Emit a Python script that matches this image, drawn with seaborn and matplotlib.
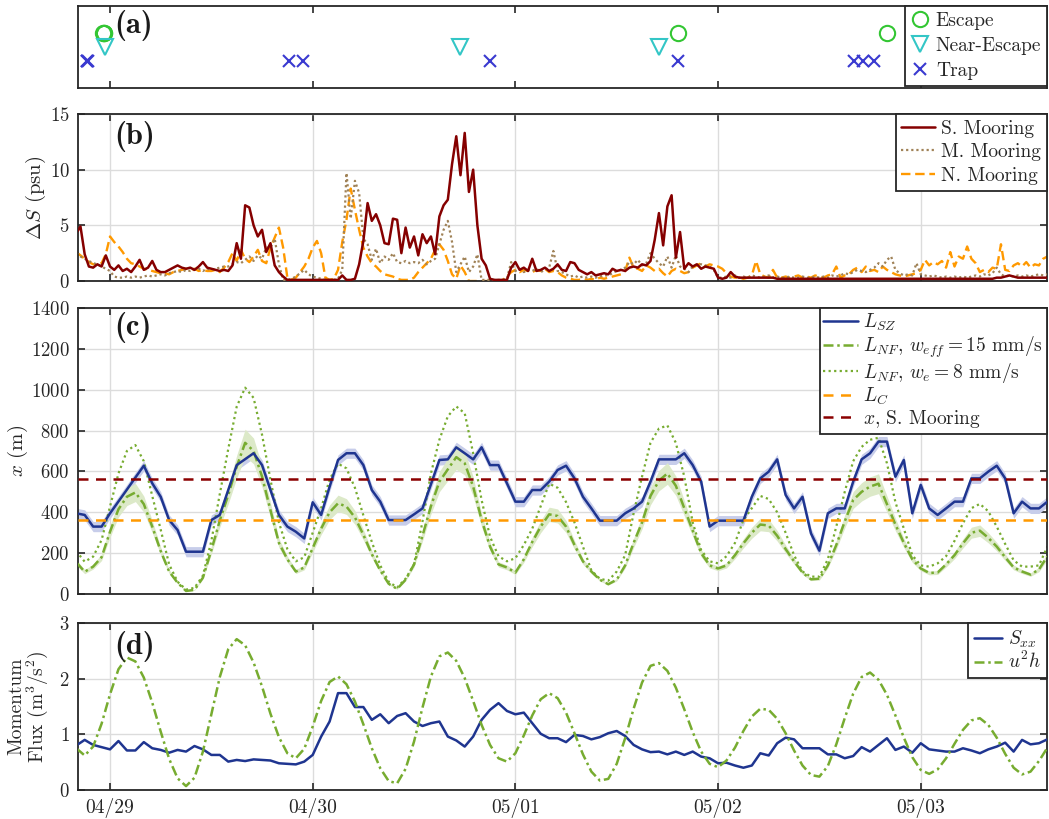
import numpy as np
import matplotlib
matplotlib.use("Agg")
import matplotlib.pyplot as plt
import seaborn as sns

# ---------------- data ----------------
day_ticks = [0, 1, 2, 3, 4]
day_labels = ["04/29", "04/30", "05/01", "05/02", "05/03"]
x_range = (-0.158, 4.623)

# (a) event times (days since 04/29 00:00)
escape_t = [-0.036, -0.032, -0.028, 2.801, 3.835]
near_t = [-0.025, 1.725, 2.708]
trap_t = [-0.116, -0.112, -0.108, 0.882, 0.952, 1.873, 2.801, 3.670, 3.716, 3.771]
escape_level, near_level, trap_level = 2.0, 1.5, 1.0

# (b) salinity difference, half-hourly from 04/28 20:00
t_half = np.arange(-8, 223) / 48.0
ds_south = [4.3, 4.9, 2.4, 1.3, 1.2, 1.5, 1.3, 2.3,
            1.3, 1.0, 1.4, 0.9, 1.1, 0.8, 1.3, 1.9, 1.0, 1.2, 1.8, 1.0, 0.8, 0.8, 1.0, 1.2, 1.4, 1.2, 1.1, 1.2, 1.0, 1.3, 1.7, 1.2,
            1.1, 1.0, 0.9, 1.0, 0.9, 1.4, 3.4, 2.0, 6.8, 6.6, 5.0, 4.0, 4.6, 2.6, 3.4, 1.4, 0.8, 0.4, 0.1, 0.1, 0.1, 0.1, 0.1, 0.1,
            0.1, 0.1, 0.1, 0.1, 0.1, 0.1, 0.1, 0.5, 0.1, 0.1, 0.2, 1.5, 3.6, 7.0, 5.4, 6.0, 5.0, 3.4, 3.3, 5.6, 5.5, 2.5, 4.8, 3.0,
            4.0, 2.3, 4.2, 3.4, 4.0, 2.4, 5.8, 6.8, 7.3, 10.5, 13.0, 9.5, 13.3, 8.0, 10.0, 5.0, 2.0, 1.4, 0.2, 0.1, 0.1, 0.1, 0.1, 1.2,
            1.7, 1.0, 1.2, 0.9, 2.0, 0.9, 1.0, 1.2, 0.9, 1.1, 1.5, 1.0, 0.9, 1.7, 1.6, 1.0, 0.8, 0.6, 0.8, 0.5, 0.6, 0.7, 0.6, 1.1,
            0.9, 1.0, 0.9, 1.2, 1.3, 1.2, 1.5, 1.4, 1.8, 3.7, 6.1, 3.2, 6.7, 7.7, 2.1, 4.4, 1.1, 1.6, 1.3, 1.5, 1.1, 1.3, 1.2, 1.1,
            0.3, 0.2, 0.3, 0.8, 0.4, 0.3, 0.3, 0.3, 0.3, 0.3, 0.3, 0.3, 0.3, 0.3, 0.2, 0.2, 0.2, 0.2, 0.2, 0.2, 0.2, 0.2, 0.2, 0.2,
            0.2, 0.2, 0.2, 0.2, 0.2, 0.2, 0.2, 0.2, 0.2, 0.2, 0.2, 0.2, 0.2, 0.2, 0.2, 0.2, 0.2, 0.2, 0.2, 0.2, 0.2, 0.2, 0.2, 0.2,
            0.2, 0.2, 0.2, 0.2, 0.2, 0.2, 0.2, 0.2, 0.2, 0.2, 0.2, 0.2, 0.2, 0.2, 0.2, 0.2, 0.2, 0.2, 0.3, 0.3, 0.4, 0.5, 0.4, 0.3,
            0.3, 0.3, 0.3, 0.3, 0.3, 0.3, 0.3]
ds_middle = [2.5, 2.2, 2.0, 1.8, 1.6, 1.5, 1.3, 1.1,
             0.9, 0.4, 0.3, 0.3, 0.4, 0.3, 0.4, 0.3, 0.4, 0.5, 0.4, 0.5, 0.6, 0.5, 0.7, 0.8, 0.9, 0.8, 1.0, 0.9, 1.0, 1.1, 0.9, 1.1,
             1.0, 1.1, 1.2, 1.3, 1.3, 1.5, 1.7, 1.6, 1.9, 2.2, 1.8, 2.3, 2.0, 3.0, 3.0, 3.8, 1.5, 0.1, 0.1, 0.2, 0.4, 0.7, 1.0, 0.6,
             0.4, 0.3, 0.2, 0.1, 0.1, 0.1, 0.2, 1.0, 9.7, 5.6, 9.0, 7.9, 3.8, 3.3, 1.9, 2.9, 1.6, 2.2, 1.9, 2.5, 1.7, 1.6, 1.8, 1.6,
             1.7, 1.6, 1.9, 1.5, 1.8, 2.0, 3.3, 4.6, 5.4, 3.5, 0.8, 1.5, 2.2, 0.8, 1.3, 2.4, 0.1, 0.1, 0.1, 0.1, 0.1, 0.1, 0.2, 1.7,
             0.9, 1.1, 0.8, 1.0, 0.9, 1.1, 0.8, 1.0, 1.2, 2.7, 0.9, 0.8, 0.6, 0.4, 0.5, 0.3, 0.4, 0.3, 0.4, 0.3, 0.4, 0.5, 0.5, 0.7,
             0.9, 1.0, 1.2, 1.7, 1.5, 1.9, 1.4, 1.6, 2.5, 2.0, 1.6, 1.3, 2.2, 1.2, 2.3, 1.3, 1.1, 0.8, 1.3, 1.5, 1.5, 1.4, 1.3, 1.0,
             0.3, 0.3, 0.4, 0.3, 0.5, 0.3, 0.4, 0.3, 0.5, 0.4, 0.3, 0.4, 0.5, 0.3, 0.4, 0.3, 0.3, 0.4, 0.3, 0.3, 0.4, 0.3, 0.3, 0.4,
             0.3, 0.4, 0.3, 0.5, 0.4, 0.5, 0.7, 0.6, 0.8, 1.0, 0.9, 0.8, 1.0, 1.2, 1.6, 1.3, 1.9, 2.2, 1.0, 0.7, 0.5, 0.6, 0.5, 1.6,
             0.6, 0.5, 0.4, 0.5, 0.4, 0.3, 0.4, 0.3, 0.4, 0.3, 0.4, 0.3, 0.4, 0.5, 0.4, 0.6, 0.5, 0.7, 1.2, 0.6, 0.4, 0.5, 0.4, 0.5,
             0.4, 0.5, 0.4, 0.5, 0.6, 0.5, 0.6]
ds_north = [2.6, 2.3, 2.0, 1.7, 1.5, 1.5, 1.6, 2.4,
            4.0, 3.5, 3.1, 2.6, 2.0, 1.6, 1.5, 1.3, 1.1, 1.0, 0.9, 0.8, 0.7, 0.7, 0.6, 0.8, 0.9, 1.0, 1.1, 1.0, 1.1, 0.9, 1.0, 0.9,
            0.9, 1.0, 0.8, 1.2, 1.7, 2.5, 1.8, 2.8, 2.0, 1.7, 2.2, 2.8, 1.8, 1.6, 3.0, 3.9, 4.8, 3.0, 0.3, 0.1, 0.3, 0.8, 1.3, 2.0,
            3.0, 3.6, 2.5, 0.3, 0.1, 0.2, 1.0, 3.5, 5.5, 8.3, 6.4, 4.6, 3.0, 2.2, 1.6, 1.3, 0.9, 0.6, 0.5, 0.4, 0.2, 0.1, 0.1, 0.1,
            0.3, 0.8, 1.2, 1.6, 2.0, 2.8, 3.3, 2.8, 1.8, 0.6, 0.2, 1.4, 0.8, 0.0, 0.0, 0.0, 0.0, 0.0, 0.0, 0.0, 0.0, 0.1, 0.4, 0.8,
            1.0, 0.8, 1.0, 0.9, 0.8, 1.0, 0.9, 1.1, 0.8, 0.9, 0.8, 0.5, 0.3, 0.2, 0.1, 0.1, 0.2, 0.1, 0.2, 0.1, 0.3, 0.2, 0.3, 0.4,
            0.5, 0.6, 0.9, 2.1, 1.2, 1.1, 0.9, 1.4, 1.2, 0.9, 1.1, 0.7, 0.4, 0.9, 1.1, 0.9, 0.7, 0.8, 1.2, 1.4, 1.6, 1.3, 1.5, 1.4,
            1.3, 1.1, 0.7, 0.4, 0.3, 0.3, 0.2, 0.3, 0.5, 1.8, 0.6, 0.4, 0.3, 1.0, 0.3, 0.3, 0.4, 0.3, 0.4, 0.5, 0.3, 0.4, 0.3, 0.5,
            0.4, 0.3, 0.5, 0.6, 1.3, 0.3, 0.5, 0.6, 1.0, 1.2, 0.8, 1.3, 0.9, 1.0, 0.8, 1.3, 1.0, 0.8, 0.6, 0.5, 0.4, 0.5, 0.6, 0.7,
            1.0, 1.9, 1.4, 1.7, 1.5, 1.8, 1.2, 2.6, 1.3, 2.2, 2.0, 3.1, 2.0, 1.6, 0.8, 1.0, 0.8, 1.2, 1.1, 3.3, 1.0, 0.9, 1.4, 1.6,
            1.3, 1.7, 1.2, 1.5, 1.4, 2.0, 2.2]

# (c) length scales, hourly from 04/28 20:00
t_hour = np.arange(-4, 112) / 24.0
l_sz = [395, 387, 330, 330,
        395, 453, 511, 570, 628, 542, 476, 362, 313, 207, 207, 207,
        362, 387, 509, 631, 660, 689, 631, 509, 387, 330, 305, 272,
        449, 387, 525, 656, 689, 689, 631, 509, 452, 362, 362, 362,
        390, 419, 537, 656, 659, 718, 689, 659, 718, 631, 631, 542,
        452, 452, 509, 509, 550, 607, 628, 566, 476, 419, 359, 359,
        359, 395, 419, 452, 550, 659, 659, 659, 689, 631, 550, 330,
        359, 359, 359, 359, 476, 566, 599, 659, 485, 419, 476, 297,
        212, 395, 419, 419, 550, 659, 689, 746, 746, 574, 656, 395,
        534, 419, 387, 419, 452, 452, 566, 566, 599, 628, 566, 395,
        452, 419, 419, 452]
l_nf_eff = [155, 109, 134, 180,
            305, 415, 476, 497, 440, 330, 210, 110, 55, 15, 20, 80,
            215, 360, 485, 623, 740, 700, 575, 410, 250, 170, 110, 130,
            225, 320, 400, 444, 428, 375, 290, 195, 115, 50, 25, 70,
            145, 285, 430, 550, 610, 670, 640, 526, 362, 232, 145, 130,
            105, 170, 255, 330, 390, 382, 330, 240, 160, 110, 70, 48,
            70, 140, 250, 350, 480, 555, 590, 530, 420, 310, 200, 140,
            125, 140, 190, 248, 300, 340, 335, 285, 220, 160, 105, 72,
            75, 140, 240, 355, 460, 500, 526, 540, 440, 340, 250, 170,
            125, 103, 105, 145, 190, 248, 300, 310, 275, 232, 180, 130,
            110, 95, 120, 185]
l_nf_e8 = [210, 158, 183, 264,
           428, 590, 700, 729, 650, 480, 315, 145, 60, 22, 30, 90,
           260, 490, 710, 917, 1010, 960, 780, 560, 350, 220, 160, 180,
           300, 420, 560, 638, 615, 520, 385, 255, 140, 60, 32, 75,
           145, 355, 590, 755, 870, 918, 885, 689, 460, 280, 185, 160,
           175, 240, 320, 430, 540, 520, 450, 350, 232, 115, 75, 65,
           110, 190, 395, 575, 740, 810, 825, 740, 575, 350, 215, 160,
           150, 185, 250, 362, 420, 480, 465, 400, 300, 190, 110, 85,
           85, 170, 330, 500, 650, 720, 755, 765, 640, 450, 320, 190,
           140, 134, 150, 185, 260, 346, 420, 441, 405, 330, 245, 165,
           134, 134, 140, 232]
l_sz_halfwidth = 25.0        # m, shaded uncertainty of L_SZ
l_nf_rel_unc = 0.09          # relative shaded uncertainty of L_NF (w_eff)
l_c = 360.0
x_s_mooring = 562.0

# (d) momentum flux, hourly
s_xx = [0.80, 0.90, 0.81, 0.77,
        0.73, 0.88, 0.71, 0.71, 0.86, 0.75, 0.72, 0.67, 0.72, 0.69, 0.79, 0.73,
        0.63, 0.63, 0.51, 0.54, 0.52, 0.55, 0.54, 0.53, 0.48, 0.47, 0.46, 0.51,
        0.63, 0.96, 1.23, 1.74, 1.74, 1.49, 1.49, 1.26, 1.36, 1.20, 1.33, 1.38,
        1.23, 1.15, 1.20, 1.23, 0.96, 0.89, 0.78, 0.96, 1.26, 1.44, 1.56, 1.42,
        1.36, 1.39, 1.20, 1.01, 0.93, 0.93, 0.86, 0.99, 0.97, 0.91, 0.95, 1.02,
        1.06, 0.97, 0.81, 0.73, 0.68, 0.69, 0.64, 0.69, 0.63, 0.69, 0.60, 0.57,
        0.48, 0.49, 0.44, 0.40, 0.44, 0.66, 0.62, 0.84, 0.94, 0.91, 0.75, 0.75,
        0.75, 0.64, 0.64, 0.57, 0.61, 0.77, 0.69, 0.81, 0.93, 0.72, 0.78, 0.67,
        0.84, 0.73, 0.71, 0.69, 0.69, 0.75, 0.71, 0.66, 0.73, 0.78, 0.85, 0.69,
        0.90, 0.82, 0.84, 0.91]
u2h = [0.75, 0.62, 0.78, 1.19,
       1.72, 2.17, 2.38, 2.31, 2.02, 1.57, 1.05, 0.56, 0.21, 0.07, 0.22, 0.69,
       1.36, 2.03, 2.53, 2.71, 2.60, 2.29, 1.86, 1.37, 0.95, 0.66, 0.57, 0.74,
       1.14, 1.60, 1.94, 2.04, 1.90, 1.59, 1.18, 0.75, 0.39, 0.16, 0.12, 0.38,
       0.87, 1.48, 2.04, 2.40, 2.47, 2.32, 2.01, 1.60, 1.17, 0.81, 0.57, 0.51,
       0.66, 0.98, 1.34, 1.63, 1.74, 1.65, 1.39, 1.02, 0.64, 0.33, 0.17, 0.20,
       0.47, 0.93, 1.46, 1.93, 2.23, 2.28, 2.14, 1.84, 1.45, 1.04, 0.69, 0.47,
       0.41, 0.53, 0.76, 1.06, 1.32, 1.46, 1.44, 1.28, 1.02, 0.71, 0.44, 0.27,
       0.24, 0.43, 0.82, 1.29, 1.73, 2.03, 2.11, 1.98, 1.71, 1.34, 0.94, 0.59,
       0.36, 0.29, 0.37, 0.57, 0.83, 1.08, 1.25, 1.29, 1.17, 0.94, 0.65, 0.40,
       0.28, 0.33, 0.52, 0.76]

assert len(ds_south) == len(t_half) == len(ds_middle) == len(ds_north)
assert len(l_sz) == len(t_hour) == len(l_nf_eff) == len(l_nf_e8) == len(s_xx) == len(u2h)

# ---------------- style ----------------
sns.set_theme(style="white")
plt.rcParams.update({
    "font.family": "serif",
    "font.serif": ["cmr10"],
    "mathtext.fontset": "cm",
    "axes.formatter.use_mathtext": True,
    "axes.unicode_minus": False,
    "text.color": "#262626",
    "axes.labelcolor": "#262626",
    "xtick.color": "#262626",
    "ytick.color": "#262626",
})

C_ESC, C_NEAR, C_TRAP = "#33c633", "#33c6c6", "#3a3ad0"
C_S, C_M, C_N = "#850000", "#a08257", "#ff9900"
C_SZ, C_NF = "#1f3590", "#77ac30"
XT_FS, YT_FS, LAB_FS, LEG_FS, PAN_FS = 14, 13.5, 15, 14, 22

W_PX, H_PX = 1049, 819
fig = plt.figure(figsize=(W_PX / 100, H_PX / 100), dpi=100)
L, W = 78 / W_PX, 969 / W_PX
ax_a = fig.add_axes([L, 1 - 88 / H_PX, W, 82 / H_PX])
ax_b = fig.add_axes([L, 1 - 281 / H_PX, W, 167 / H_PX])
ax_c = fig.add_axes([L, 1 - 594 / H_PX, W, 286 / H_PX])
ax_d = fig.add_axes([L, 1 - 790 / H_PX, W, 167 / H_PX])


def style_axes(ax, grid=True):
    ax.set_xlim(*x_range)
    ax.set_xticks(day_ticks)
    ax.tick_params(direction="in", length=5, width=1.2, top=True, right=True,
                   bottom=True, left=True, pad=6)
    ax.tick_params(axis="x", labelsize=XT_FS)
    ax.tick_params(axis="y", labelsize=YT_FS)
    for s in ax.spines.values():
        s.set_linewidth(1.3)
        s.set_color("#262626")
        s.set_visible(True)
    if grid:
        ax.grid(True, color="#dcdcdc", linewidth=1.0)
        ax.set_axisbelow(True)
    ax.set_xlabel("")
    ax.set_ylabel("")


def legend(ax, order, spacing=0.3, hl=1.75, pad=0.3, **kw):
    h, l = ax.get_legend_handles_labels()
    d = dict(zip(l, h))
    leg = ax.legend([d[k] for k in order], order, loc="upper right", fontsize=LEG_FS,
                    frameon=True, fancybox=False, framealpha=1, edgecolor="#262626",
                    borderaxespad=0, borderpad=pad, labelspacing=spacing,
                    handlelength=hl, handletextpad=0.3, **kw)
    leg.get_frame().set_linewidth(1.3)
    return leg


def panel_label(ax, s, y):
    ax.text(0.037, y, s, transform=ax.transAxes, ha="left", va="top",
            fontsize=PAN_FS, family="cmb10", color="#1a1a1a", zorder=10)


# ---- (a)
for tt, lev, mk, col, lab, ms in [(escape_t, escape_level, "o", C_ESC, "Escape", 11),
                                   (near_t, near_level, "v", C_NEAR, "Near-Escape", 11),
                                   (trap_t, trap_level, "x", C_TRAP, "Trap", 9)]:
    sns.lineplot(x=tt, y=np.full(len(tt), lev), ax=ax_a, estimator=None, sort=False,
                 marker=mk, linestyle="none", markersize=ms, mfc="none", mec=col,
                 mew=1.5, color=col, label=lab)
style_axes(ax_a, grid=False)
ax_a.set_ylim(0, 3)
ax_a.set_yticks([])
ax_a.tick_params(labelbottom=False, left=False, right=False)
legend(ax_a, ["Escape", "Near-Escape", "Trap"], spacing=0.36, hl=1.0, pad=0.3)
panel_label(ax_a, "(a)", 0.95)

# ---- (b)
sns.lineplot(x=t_half, y=ds_north, ax=ax_b, estimator=None, color=C_N, lw=1.7,
             linestyle=(0, (4, 2)), label="N. Mooring", zorder=2)
sns.lineplot(x=t_half, y=ds_middle, ax=ax_b, estimator=None, color=C_M, lw=1.6,
             linestyle=(0, (1, 1.3)), label="M. Mooring", zorder=3)
sns.lineplot(x=t_half, y=ds_south, ax=ax_b, estimator=None, color=C_S, lw=1.8,
             label="S. Mooring", zorder=4)
style_axes(ax_b)
ax_b.set_ylim(0, 15)
ax_b.set_yticks([0, 5, 10, 15])
ax_b.tick_params(labelbottom=False)
ax_b.set_ylabel(r"$\Delta S$ (psu)", fontsize=LAB_FS)
ax_b.yaxis.set_label_coords(-0.031, 0.5)
legend(ax_b, ["S. Mooring", "M. Mooring", "N. Mooring"], spacing=0.28)
panel_label(ax_b, "(b)", 0.96)

# ---- (c)
sz = np.array(l_sz, dtype=float)
nf = np.array(l_nf_eff, dtype=float)
ax_c.fill_between(t_hour, sz - l_sz_halfwidth, sz + l_sz_halfwidth, color="#c7cdea", lw=0, zorder=1)
ax_c.fill_between(t_hour, nf * (1 - l_nf_rel_unc), nf * (1 + l_nf_rel_unc), color="#dce9c8", lw=0, zorder=1)
sns.lineplot(x=t_hour, y=l_nf_e8, ax=ax_c, estimator=None, color=C_NF, lw=1.6,
             linestyle=(0, (1, 1.5)), label=r"$L_{NF}$, $w_e = 8$ mm/s", zorder=2)
sns.lineplot(x=t_hour, y=l_nf_eff, ax=ax_c, estimator=None, color=C_NF, lw=1.8,
             linestyle=(0, (4, 1.5, 1, 1.5)), label=r"$L_{NF}$, $w_{eff} = 15$ mm/s", zorder=3)
sns.lineplot(x=t_hour, y=l_sz, ax=ax_c, estimator=None, color=C_SZ, lw=1.8,
             label=r"$L_{SZ}$", zorder=4)
ax_c.axhline(l_c, color=C_N, lw=1.8, linestyle=(0, (4, 3)), label=r"$L_C$", zorder=5)
ax_c.axhline(x_s_mooring, color="#8b0000", lw=1.8, linestyle=(0, (4, 3)),
             label=r"$x$, S. Mooring", zorder=5)
style_axes(ax_c)
ax_c.set_ylim(0, 1400)
ax_c.set_yticks(np.arange(0, 1401, 200))
ax_c.tick_params(labelbottom=False)
ax_c.set_ylabel(r"$x$ (m)", fontsize=LAB_FS)
ax_c.yaxis.set_label_coords(-0.050, 0.5)
legend(ax_c, [r"$L_{SZ}$", r"$L_{NF}$, $w_{eff} = 15$ mm/s", r"$L_{NF}$, $w_e = 8$ mm/s",
              r"$L_C$", r"$x$, S. Mooring"], spacing=0.05, pad=0.2)
panel_label(ax_c, "(c)", 0.985)

# ---- (d)
sns.lineplot(x=t_hour, y=s_xx, ax=ax_d, estimator=None, color=C_SZ, lw=1.8,
             label=r"$S_{xx}$", zorder=3)
sns.lineplot(x=t_hour, y=u2h, ax=ax_d, estimator=None, color=C_NF, lw=1.8,
             linestyle=(0, (4, 1.5, 1, 1.5)), label=r"$u^2h$", zorder=4)
style_axes(ax_d)
ax_d.set_ylim(0, 3)
ax_d.set_yticks([0, 1, 2, 3])
ax_d.set_xticks(day_ticks)
ax_d.set_xticklabels(day_labels)
ax_d.set_ylabel("Momentum\nFlux (m$^3$/s$^2$)", fontsize=14, linespacing=0.95)
ax_d.yaxis.set_label_coords(-0.029, 0.5)
legend(ax_d, [r"$S_{xx}$", r"$u^2h$"], spacing=0.05, hl=1.45)
panel_label(ax_d, "(d)", 0.95)

fig.savefig("out.png", dpi=100)
